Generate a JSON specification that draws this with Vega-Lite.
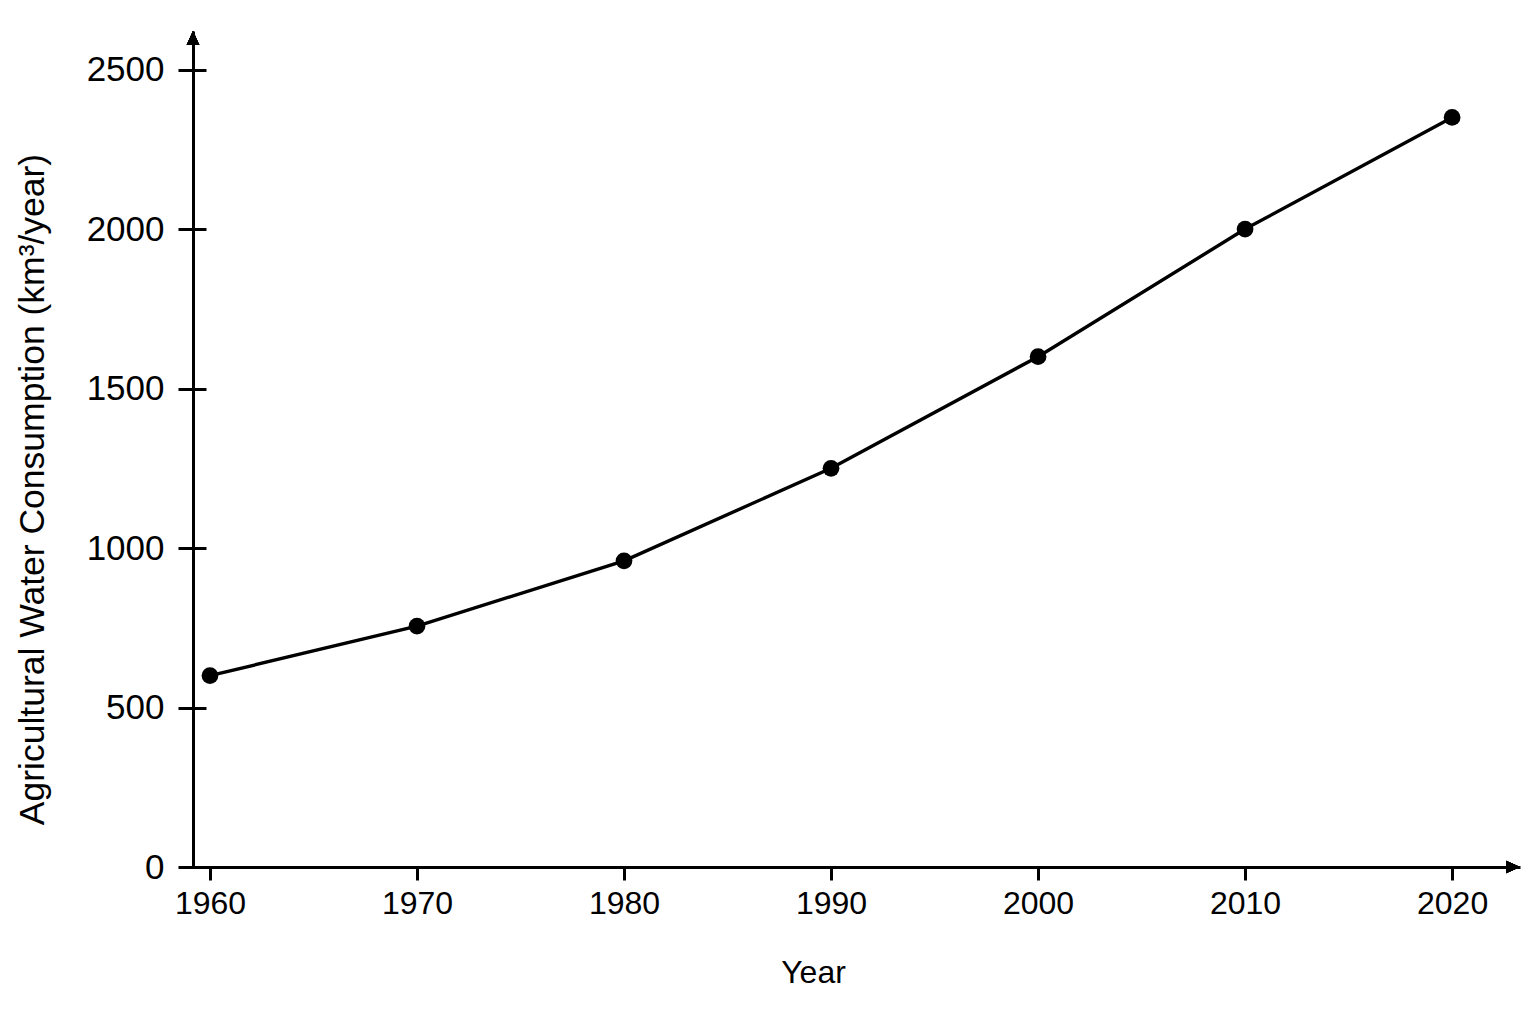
{
  "$schema": "https://vega.github.io/schema/vega-lite/v6.json",
  "width": 1327,
  "height": 836,
  "autosize": {"type": "none"},
  "padding": {"left": 193, "top": 31, "right": 16, "bottom": 157},
  "background": "white",
  "config": {"view": {"stroke": null}, "font": "Liberation Sans"},
  "data": {
    "values": [
      {"year": 1960, "value": 600},
      {"year": 1970, "value": 755},
      {"year": 1980, "value": 960},
      {"year": 1990, "value": 1250},
      {"year": 2000, "value": 1600},
      {"year": 2010, "value": 2000},
      {"year": 2020, "value": 2350}
    ]
  },
  "layer": [
    {
      "mark": {"type": "line", "color": "black", "strokeWidth": 3.4},
      "encoding": {
        "x": {
          "field": "year",
          "type": "quantitative",
          "scale": {"domain": [1959.18, 2023.28], "nice": false, "zero": false},
          "axis": {
            "values": [1960, 1970, 1980, 1990, 2000, 2010, 2020],
            "format": "d",
            "title": "Year",
            "grid": false,
            "tickSize": 13,
            "tickWidth": 3,
            "tickColor": "black",
            "domainColor": "black",
            "domainWidth": 3,
            "labelFontSize": 32,
            "labelColor": "black",
            "labelPadding": 8,
            "labelFlush": false,
            "titleFontSize": 32,
            "titleFontWeight": "normal",
            "titleColor": "black",
            "titleX": 620,
            "titleY": 115,
            "titleBaseline": "alphabetic",
            "titleAlign": "center"
          }
        },
        "y": {
          "field": "value",
          "type": "quantitative",
          "scale": {"domain": [0, 2621], "nice": false},
          "axis": {
            "orient": "left",
            "offset": -13,
            "values": [0, 500, 1000, 1500, 2000, 2500],
            "format": "d",
            "title": "Agricultural Water Consumption (km³/year)",
            "grid": false,
            "domain": false,
            "tickSize": 28,
            "tickWidth": 3,
            "tickColor": "black",
            "labelFontSize": 35,
            "labelColor": "black",
            "labelPadding": 14,
            "labelFlush": false,
            "titleFontSize": 35.5,
            "titleFontWeight": "normal",
            "titleColor": "black",
            "titleAngle": 270,
            "titleX": -163,
            "titleY": 458,
            "titleBaseline": "alphabetic",
            "titleAlign": "center"
          }
        }
      }
    },
    {
      "mark": {"type": "point", "filled": true, "color": "black", "size": 280, "opacity": 1},
      "encoding": {
        "x": {"field": "year", "type": "quantitative"},
        "y": {
          "field": "value",
          "type": "quantitative",
          "axis": {
            "orient": "left",
            "offset": 0,
            "ticks": false,
            "labels": false,
            "domain": true,
            "domainColor": "black",
            "domainWidth": 3,
            "grid": false,
            "title": null
          }
        }
      }
    },
    {
      "mark": {"type": "point", "filled": true, "color": "black", "opacity": 1, "size": 196, "shape": "M0,-1L0.9,1L-0.9,1Z", "yOffset": 7},
      "encoding": {
        "x": {"datum": 1959.18, "type": "quantitative"},
        "y": {"datum": 2621, "type": "quantitative", "axis": null}
      }
    },
    {
      "mark": {"type": "point", "filled": true, "color": "black", "opacity": 1, "size": 196, "shape": "M1,0L-1,-0.9L-1,0.9Z", "xOffset": -7},
      "encoding": {
        "x": {"datum": 2023.28, "type": "quantitative"},
        "y": {"datum": 0, "type": "quantitative", "axis": null}
      }
    }
  ],
  "resolve": {"axis": {"y": "independent"}}
}
